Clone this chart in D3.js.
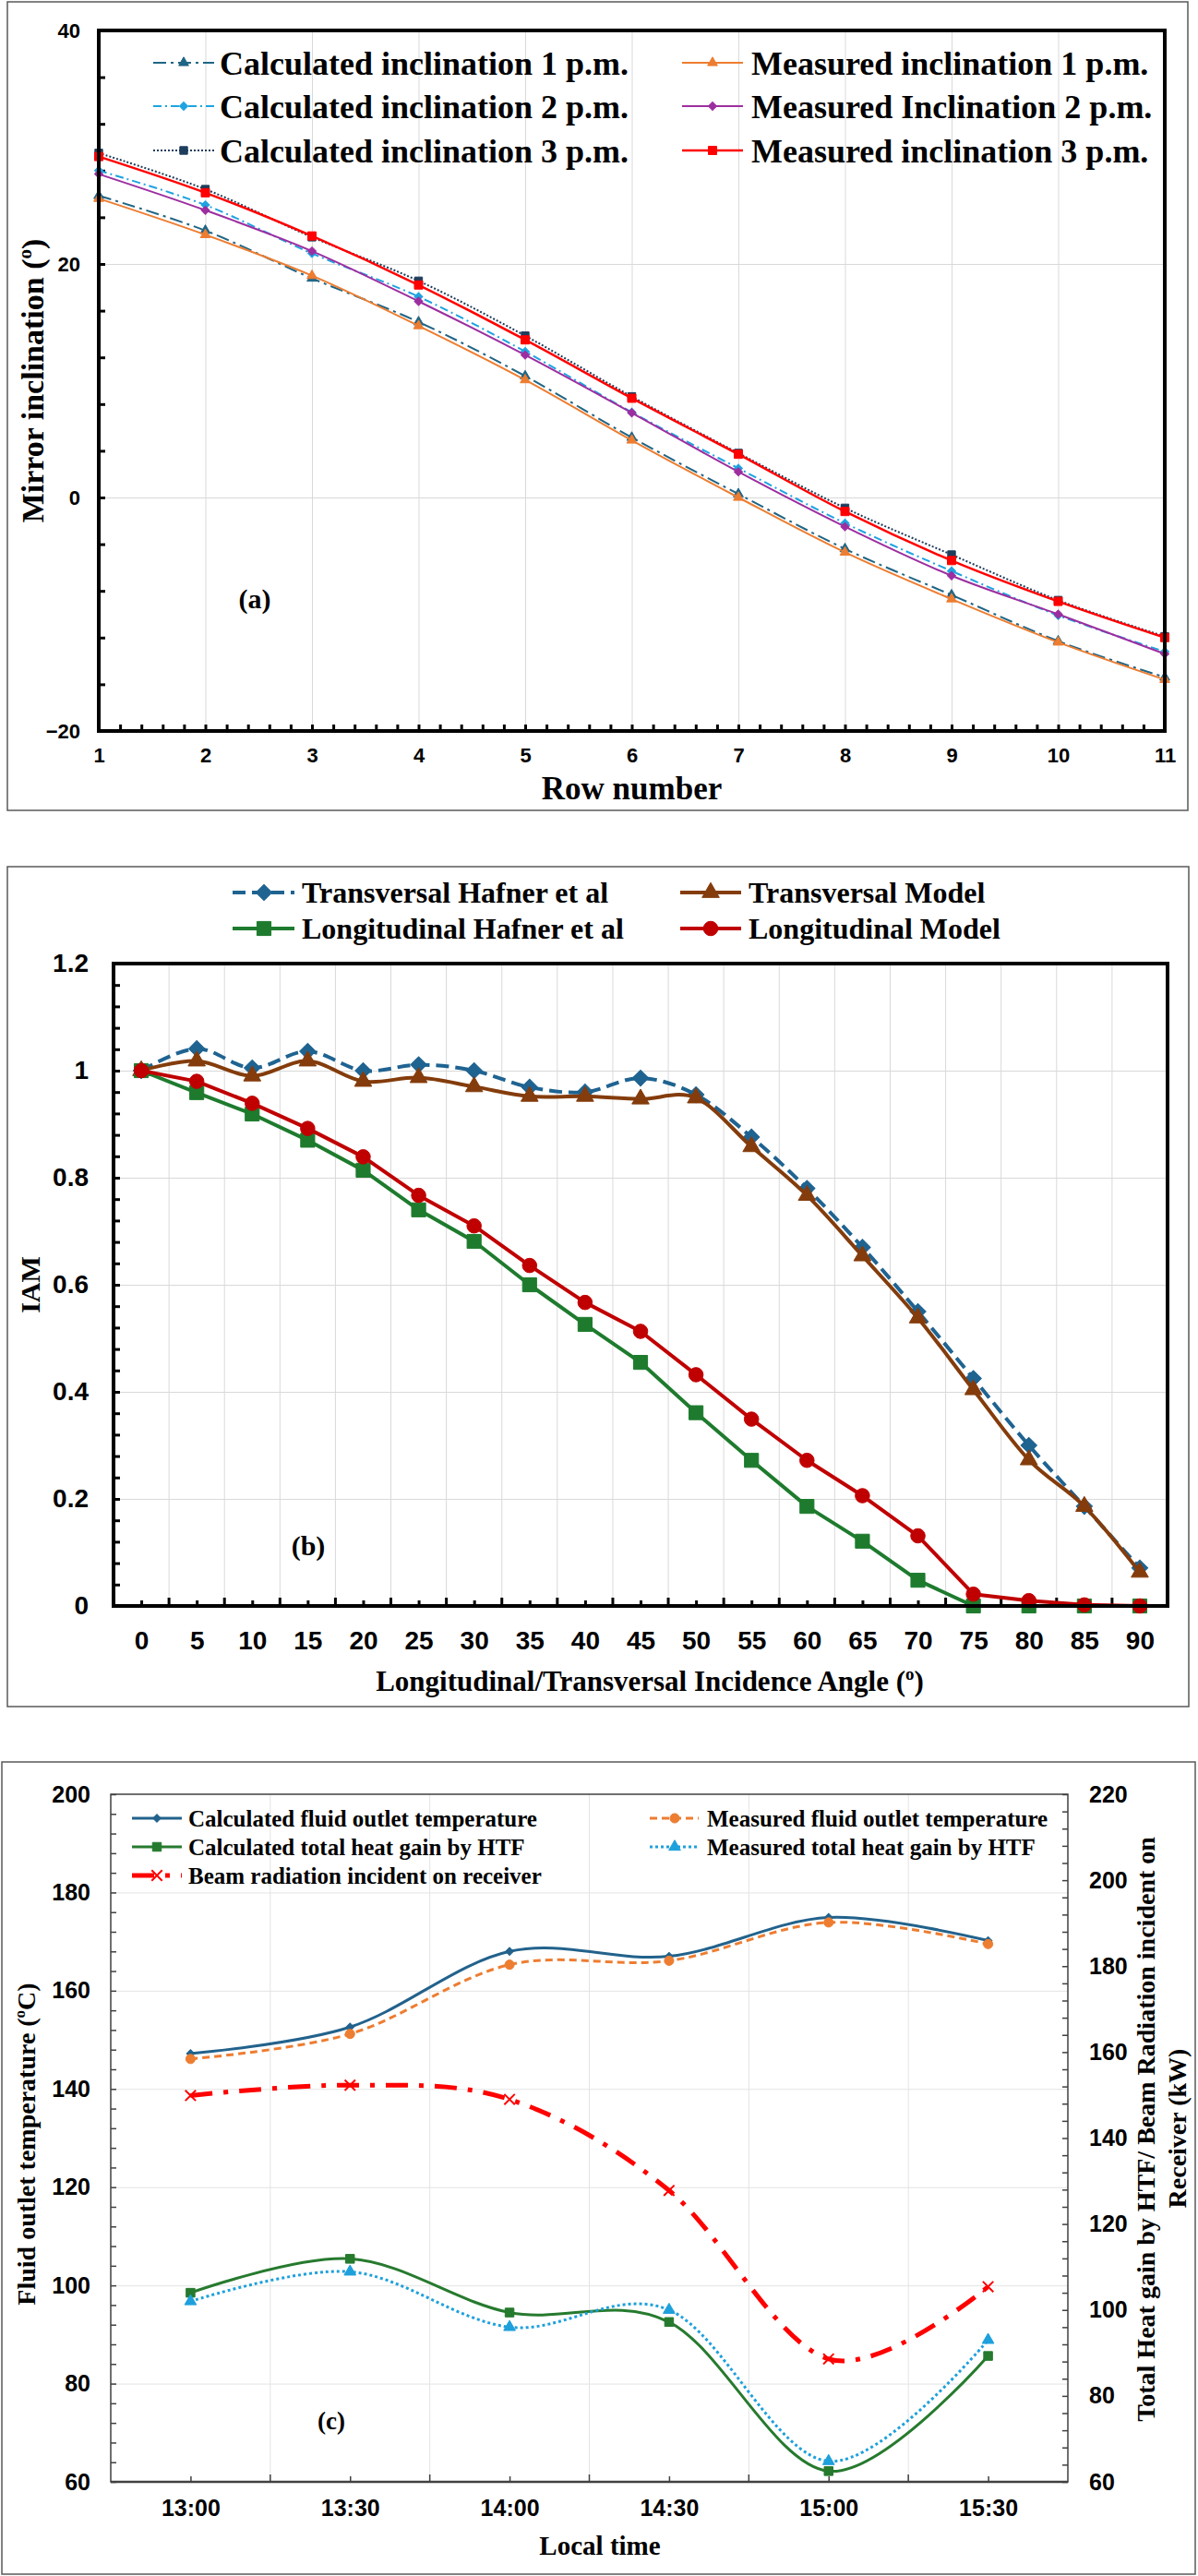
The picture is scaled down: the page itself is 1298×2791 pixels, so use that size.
<!DOCTYPE html>
<html>
<head>
<meta charset="utf-8">
<script src="https://cdn.jsdelivr.net/npm/d3@7"></script>
<style>
  body { margin: 0; background: #fff; }
  svg { display: block; font-family: "Liberation Serif", "Times New Roman", serif; font-weight: bold; }
</style>
</head>
<body>
<svg id="chart" width="1298" height="2791"></svg>
<script>
// ---- (a) mirror inclination per row ----
const ROW_NUMBERS = [1, 2, 3, 4, 5, 6, 7, 8, 9, 10, 11];
const CALC_1PM = [25.85, 22.86, 18.77, 15.03, 10.4, 5.14, 0.3, -4.4, -8.35, -12.3, -15.4];
const MEAS_1PM = [25.6, 22.5, 19.0, 14.7, 10.07, 4.9, 0.0, -4.7, -8.7, -12.4, -15.6];
const CALC_2PM = [28.0, 25.05, 20.9, 17.2, 12.5, 7.3, 2.5, -2.2, -6.3, -10.1, -13.2];
const MEAS_2PM = [27.7, 24.6, 21.1, 16.8, 12.2, 7.25, 2.2, -2.5, -6.7, -10.0, -13.4];
const CALC_3PM = [29.5, 26.4, 22.3, 18.55, 13.85, 8.65, 3.8, -0.9, -4.9, -8.8, -11.9];
const MEAS_3PM = [29.2, 26.1, 22.4, 18.2, 13.5, 8.5, 3.7, -1.2, -5.4, -8.9, -12.0];
const INCL_TICKS = [-20, 0, 20, 40];

// ---- (b) incidence angle modifier ----
const ANGLES = [0, 5, 10, 15, 20, 25, 30, 35, 40, 45, 50, 55, 60, 65, 70, 75, 80, 85, 90];
const TRANS_HAFNER = [1.0, 1.041, 1.005, 1.036, 1.0, 1.011, 1.0, 0.969, 0.96, 0.986, 0.955, 0.876, 0.78, 0.67, 0.55, 0.425, 0.3, 0.186, 0.071];
const TRANS_MODEL  = [1.0, 1.018, 0.99, 1.018, 0.98, 0.987, 0.97, 0.952, 0.952, 0.947, 0.949, 0.858, 0.767, 0.654, 0.538, 0.404, 0.273, 0.186, 0.063];
const LONG_HAFNER  = [1.0, 0.959, 0.919, 0.87, 0.814, 0.74, 0.681, 0.6, 0.526, 0.455, 0.361, 0.272, 0.186, 0.121, 0.048, 0, 0, 0, 0];
const LONG_MODEL   = [1.0, 0.98, 0.939, 0.892, 0.839, 0.767, 0.71, 0.636, 0.567, 0.513, 0.432, 0.349, 0.272, 0.206, 0.131, 0.022, 0.01, 0.002, 0];
const IAM_TICKS = [0, 0.2, 0.4, 0.6, 0.8, 1, 1.2];

// ---- (c) outlet temperature and heat gain over the afternoon ----
const TIMES = ['13:00', '13:30', '14:00', '14:30', '15:00', '15:30'];
const CALC_OUTLET_T = [147.2, 152.6, 168.0, 167.0, 174.9, 170.2];
const MEAS_OUTLET_T = [146.1, 151.2, 165.3, 166.1, 173.9, 169.5];
const CALC_HEAT_GAIN = [104.0, 111.9, 99.4, 97.2, 62.5, 89.3];
const MEAS_HEAT_GAIN = [102.0, 108.9, 96.0, 100.0, 64.8, 93.0];
const BEAM_RADIATION = [149.9, 152.3, 149.0, 127.8, 88.6, 105.4];
const TEMP_TICKS = [60, 80, 100, 120, 140, 160, 180, 200];
const POWER_TICKS = [60, 80, 100, 120, 140, 160, 180, 200, 220];

const svg = d3.select('#chart');
const GRID = '#d9d9d9';

const symbolX = {
  draw(ctx, size) {
    const r = Math.sqrt(size) / 2;
    ctx.moveTo(-r, -r); ctx.lineTo(r, r);
    ctx.moveTo(-r, r); ctx.lineTo(r, -r);
  }
};
const SYMBOLS = { triangle: d3.symbolTriangle, square: d3.symbolSquare, diamond: d3.symbolSquare, circle: d3.symbolCircle, x: symbolX };

function outerBox(x0, y0, x1, y1) {
  svg.append('rect').attr('x', x0).attr('y', y0).attr('width', x1 - x0).attr('height', y1 - y0)
    .attr('fill', 'none').attr('stroke', '#595959').attr('stroke-width', 1.5);
}

function styleAxis(g, color, width) {
  g.select('.domain').remove();
  g.selectAll('line').attr('stroke', color).attr('stroke-width', width);
}

function labelAxis(g, size) {
  g.select('.domain').remove();
  g.selectAll('line').remove();
  g.selectAll('text').attr('font-family', null).attr('font-size', size).attr('fill', '#000');
}

function markerAt(g, s, cx, cy) {
  g.append('path')
    .attr('d', d3.symbol(SYMBOLS[s.marker], s.msize)())
    .attr('transform', `translate(${cx},${cy})` + (s.marker === 'diamond' ? ' rotate(45)' : ''))
    .attr('fill', s.marker === 'x' ? 'none' : s.color)
    .attr('stroke', s.color)
    .attr('stroke-width', s.marker === 'x' ? 2 : 1);
}

function drawSeries(g, xs, s, x, y) {
  const line = d3.line()
    .x((d, i) => x(xs[i]))
    .y(d => y(d))
    .curve(s.smooth ? d3.curveCardinal.tension(0) : d3.curveLinear);
  g.append('path').datum(s.values).attr('d', line)
    .attr('fill', 'none').attr('stroke', s.color).attr('stroke-width', s.width)
    .attr('stroke-dasharray', s.dash || null).attr('stroke-linejoin', 'round');
  const mg = g.append('g');
  s.values.forEach((v, i) => markerAt(mg, s, x(xs[i]), y(v)));
}

function legendItem(g, s, x0, x1, mx, tx, y, size) {
  g.append('line').attr('x1', x0).attr('x2', x1).attr('y1', y).attr('y2', y)
    .attr('stroke', s.color).attr('stroke-width', s.width).attr('stroke-dasharray', s.dash || null);
  markerAt(g, s, mx, y);
  g.append('text').attr('x', tx).attr('y', y).attr('dy', '0.35em').attr('font-size', size).text(s.label);
}

function rotatedTitle(x, y, size, parts) {
  const t = svg.append('text').attr('transform', `translate(${x},${y}) rotate(-90)`)
    .attr('text-anchor', 'middle').attr('font-size', size);
  parts(t);
}

// ================= (a) =================
{
  const P = { left: 107, right: 1262, top: 33, bottom: 792 };
  outerBox(8, 2, 1287, 878);
  const x = d3.scaleLinear().domain([1, 11]).range([P.left, P.right]);
  const y = d3.scaleLinear().domain([-20, 40]).range([P.bottom, P.top]);
  const g = svg.append('g');

  g.append('g').attr('transform', `translate(0,${P.bottom})`)
    .call(d3.axisBottom(x).tickValues(ROW_NUMBERS.slice(1, -1)).tickSize(-(P.bottom - P.top)).tickFormat(''))
    .call(a => styleAxis(a, GRID, 1));
  g.append('g').attr('transform', `translate(${P.left},0)`)
    .call(d3.axisLeft(y).tickValues([0, 20]).tickSize(-(P.right - P.left)).tickFormat(''))
    .call(a => styleAxis(a, GRID, 1));

  // inside tick marks
  g.append('g').attr('transform', `translate(0,${P.bottom})`)
    .call(d3.axisBottom(x).tickValues(d3.range(0, 51).map(i => 1 + i * 0.2)).tickSize(-7).tickFormat(''))
    .call(a => styleAxis(a, '#000', 3));
  g.append('g').attr('transform', `translate(${P.left},0)`)
    .call(d3.axisLeft(y).tickValues(d3.range(-20, 41, 4)).tickSize(-7).tickFormat(''))
    .call(a => styleAxis(a, '#000', 3));

  g.append('g').attr('transform', `translate(${P.left},0)`)
    .call(d3.axisLeft(y).tickValues(INCL_TICKS).tickSize(0).tickPadding(20))
    .call(a => labelAxis(a, 22));
  g.append('g').attr('transform', `translate(0,${P.bottom})`)
    .call(d3.axisBottom(x).tickValues(ROW_NUMBERS).tickSize(0).tickPadding(18))
    .call(a => labelAxis(a, 22));

  const series = [
    { label: 'Calculated inclination 1 p.m.', values: CALC_1PM, color: '#1f6585', width: 2, dash: '14,5,3,5', marker: 'triangle', msize: 50, smooth: true },
    { label: 'Measured inclination 1 p.m.', values: MEAS_1PM, color: '#ed7d31', width: 2, marker: 'triangle', msize: 50, smooth: true },
    { label: 'Calculated inclination 2 p.m.', values: CALC_2PM, color: '#1ea3e0', width: 2, dash: '9,4,2,4', marker: 'diamond', msize: 40, smooth: true },
    { label: 'Measured Inclination 2 p.m.', values: MEAS_2PM, color: '#9c2ea0', width: 2, marker: 'diamond', msize: 40, smooth: true },
    { label: 'Calculated inclination 3 p.m.', values: CALC_3PM, color: '#1f3d5c', width: 2, dash: '2,2', marker: 'square', msize: 70, smooth: true },
    { label: 'Measured inclination 3 p.m.', values: MEAS_3PM, color: '#ff0000', width: 2.5, marker: 'square', msize: 80, smooth: true },
  ];
  const sg = g.append('g');
  series.forEach(s => drawSeries(sg, ROW_NUMBERS, s, x, y));

  g.append('rect').attr('x', P.left).attr('y', P.top).attr('width', P.right - P.left).attr('height', P.bottom - P.top)
    .attr('fill', 'none').attr('stroke', '#000').attr('stroke-width', 4);

  const lg = g.append('g');
  const rowsY = [68, 115, 163];
  series.forEach((s, i) => {
    const col = i % 2, row = Math.floor(i / 2);
    if (col === 0) legendItem(lg, s, 166, 232, 199, 238, rowsY[row], 36);
    else legendItem(lg, s, 739, 805, 772, 814, rowsY[row], 36);
  });

  g.append('text').attr('x', 276).attr('y', 659).attr('text-anchor', 'middle').attr('font-size', 30).text('(a)');
  g.append('text').attr('x', (P.left + P.right) / 2).attr('y', 866).attr('text-anchor', 'middle').attr('font-size', 35).text('Row number');
  rotatedTitle(47, (P.top + P.bottom) / 2, 34, t => {
    t.append('tspan').text('Mirror inclination (');
    t.append('tspan').attr('font-size', 21).attr('dy', -13).text('o');
    t.append('tspan').attr('dy', 13).text(')');
  });
}

// ================= (b) =================
{
  const P = { left: 123, right: 1265, top: 1044, bottom: 1740 };
  outerBox(8, 939, 1288, 1849);
  const x = d3.scalePoint().domain(ANGLES).range([P.left, P.right]).padding(0.5);
  const y = d3.scaleLinear().domain([0, 1.2]).range([P.bottom, P.top]);
  const step = x.step();
  const bounds = d3.range(1, ANGLES.length).map(i => P.left + i * step);
  const g = svg.append('g');

  g.selectAll('.vgrid').data(bounds).join('line')
    .attr('x1', d => d).attr('x2', d => d).attr('y1', P.top).attr('y2', P.bottom)
    .attr('stroke', GRID).attr('stroke-width', 1);
  g.append('g').attr('transform', `translate(${P.left},0)`)
    .call(d3.axisLeft(y).tickValues(IAM_TICKS.slice(1, -1)).tickSize(-(P.right - P.left)).tickFormat(''))
    .call(a => styleAxis(a, GRID, 1));

  // inside ticks: boundaries (long) and category centres (short)
  g.selectAll('.btick').data(bounds).join('line')
    .attr('x1', d => d).attr('x2', d => d).attr('y1', P.bottom).attr('y2', P.bottom - 9)
    .attr('stroke', '#000').attr('stroke-width', 3);
  g.append('g').attr('transform', `translate(0,${P.bottom})`)
    .call(d3.axisBottom(x).tickSize(-6).tickFormat(''))
    .call(a => styleAxis(a, '#000', 3));
  g.append('g').attr('transform', `translate(${P.left},0)`)
    .call(d3.axisLeft(y).tickValues(d3.range(0, 31).map(i => i * 0.04)).tickSize(-7).tickFormat(''))
    .call(a => styleAxis(a, '#000', 3));

  g.append('g').attr('transform', `translate(${P.left},0)`)
    .call(d3.axisLeft(y).tickValues(IAM_TICKS).tickSize(0).tickPadding(27).tickFormat(d3.format('~g')))
    .call(a => labelAxis(a, 28));
  g.append('g').attr('transform', `translate(0,${P.bottom})`)
    .call(d3.axisBottom(x).tickSize(0).tickPadding(27))
    .call(a => labelAxis(a, 28));

  const series = [
    { label: 'Transversal Hafner et al', values: TRANS_HAFNER, color: '#1f6391', width: 4, dash: '14,7', marker: 'diamond', msize: 150, smooth: true },
    { label: 'Transversal Model', values: TRANS_MODEL, color: '#843c0c', width: 4, marker: 'triangle', msize: 150, smooth: true },
    { label: 'Longitudinal Hafner et al', values: LONG_HAFNER, color: '#1e7b2e', width: 4, marker: 'square', msize: 230, smooth: false },
    { label: 'Longitudinal Model', values: LONG_MODEL, color: '#c00000', width: 4, marker: 'circle', msize: 190, smooth: false },
  ];
  const sg = g.append('g');
  series.forEach(s => drawSeries(sg, ANGLES, s, x, y));

  g.append('rect').attr('x', P.left).attr('y', P.top).attr('width', P.right - P.left).attr('height', P.bottom - P.top)
    .attr('fill', 'none').attr('stroke', '#000').attr('stroke-width', 4);

  const lg = g.append('g');
  const rowsY = [967, 1006];
  series.forEach((s, i) => {
    const col = i % 2, row = Math.floor(i / 2);
    if (col === 0) legendItem(lg, s, 252, 319, 286, 327, rowsY[row], 32);
    else legendItem(lg, s, 737, 803, 770, 811, rowsY[row], 32);
  });

  g.append('rect').attr('x', 310).attr('y', 1652).attr('width', 50).attr('height', 42).attr('fill', '#fff');
  g.append('text').attr('x', 334).attr('y', 1685).attr('text-anchor', 'middle').attr('font-size', 30).text('(b)');
  const xt = g.append('text').attr('x', (P.left + P.right) / 2 + 10).attr('y', 1832).attr('text-anchor', 'middle').attr('font-size', 31);
  xt.append('tspan').text('Longitudinal/Transversal Incidence Angle (');
  xt.append('tspan').attr('font-size', 19).attr('dy', -12).text('o');
  xt.append('tspan').attr('dy', 12).text(')');
  rotatedTitle(43, (P.top + P.bottom) / 2, 30, t => t.text('IAM'));
}

// ================= (c) =================
{
  const P = { left: 120, right: 1157, top: 1944, bottom: 2689 };
  outerBox(2, 1909, 1295, 2789);
  const x = d3.scalePoint().domain(TIMES).range([P.left, P.right]).padding(0.5);
  const yT = d3.scaleLinear().domain([60, 200]).range([P.bottom, P.top]);
  const yQ = d3.scaleLinear().domain([60, 220]).range([P.bottom, P.top]);
  const step = x.step();
  const bounds = d3.range(1, TIMES.length).map(i => P.left + i * step);
  const g = svg.append('g');

  g.selectAll('.vgrid').data(bounds).join('line')
    .attr('x1', d => d).attr('x2', d => d).attr('y1', P.top).attr('y2', P.bottom)
    .attr('stroke', '#e3e3e3').attr('stroke-width', 1);
  g.append('g').attr('transform', `translate(${P.left},0)`)
    .call(d3.axisLeft(yT).tickValues(TEMP_TICKS.slice(1, -1)).tickSize(-(P.right - P.left)).tickFormat(''))
    .call(a => styleAxis(a, '#e3e3e3', 1));

  g.selectAll('.btick').data(bounds).join('line')
    .attr('x1', d => d).attr('x2', d => d).attr('y1', P.bottom).attr('y2', P.bottom - 8)
    .attr('stroke', '#404040').attr('stroke-width', 1.5);
  g.append('g').attr('transform', `translate(0,${P.bottom})`)
    .call(d3.axisBottom(x).tickSize(-6).tickFormat(''))
    .call(a => styleAxis(a, '#404040', 1.5));
  g.append('g').attr('transform', `translate(${P.left},0)`)
    .call(d3.axisLeft(yT).tickValues(d3.range(60, 201, 4)).tickSize(-6).tickFormat(''))
    .call(a => styleAxis(a, '#404040', 1.5));
  g.append('g').attr('transform', `translate(${P.right},0)`)
    .call(d3.axisRight(yQ).tickValues(d3.range(60, 221, 4)).tickSize(-6).tickFormat(''))
    .call(a => styleAxis(a, '#404040', 1.5));

  g.append('g').attr('transform', `translate(${P.left},0)`)
    .call(d3.axisLeft(yT).tickValues(TEMP_TICKS).tickSize(0).tickPadding(22))
    .call(a => labelAxis(a, 25));
  g.append('g').attr('transform', `translate(${P.right},0)`)
    .call(d3.axisRight(yQ).tickValues(POWER_TICKS).tickSize(0).tickPadding(23))
    .call(a => labelAxis(a, 25));
  g.append('g').attr('transform', `translate(0,${P.bottom})`)
    .call(d3.axisBottom(x).tickSize(0).tickPadding(19))
    .call(a => labelAxis(a, 25));

  const series = [
    { label: 'Calculated fluid outlet temperature', values: CALC_OUTLET_T, y: yT, color: '#22628c', width: 3, marker: 'diamond', msize: 36, smooth: true },
    { label: 'Measured fluid outlet temperature', values: MEAS_OUTLET_T, y: yT, color: '#ed7d31', width: 3, dash: '8,5', marker: 'circle', msize: 80, smooth: true },
    { label: 'Calculated total heat gain by HTF', values: CALC_HEAT_GAIN, y: yQ, color: '#267a2e', width: 3, marker: 'square', msize: 90, smooth: true },
    { label: 'Measured total heat gain by HTF', values: MEAS_HEAT_GAIN, y: yQ, color: '#1ea0dc', width: 3, dash: '3,3', marker: 'triangle', msize: 70, smooth: true },
    { label: 'Beam radiation incident on receiver', values: BEAM_RADIATION, y: yQ, color: '#ff0000', width: 5, dash: '24,12,5,12', marker: 'x', msize: 130, smooth: true },
  ];
  const sg = g.append('g');
  series.forEach(s => drawSeries(sg, TIMES, s, x, s.y));

  g.append('rect').attr('x', P.left).attr('y', P.top).attr('width', P.right - P.left).attr('height', P.bottom - P.top)
    .attr('fill', 'none').attr('stroke', '#404040').attr('stroke-width', 1.5);
  g.append('line').attr('x1', P.left).attr('x2', P.right).attr('y1', P.bottom).attr('y2', P.bottom)
    .attr('stroke', '#404040').attr('stroke-width', 2.5);

  const lg = g.append('g');
  const rowsY = [1970, 2001, 2032];
  series.forEach((s, i) => {
    const col = i % 2, row = Math.floor(i / 2);
    if (col === 0) legendItem(lg, s, 143, 197, 170, 204, rowsY[row], 25);
    else legendItem(lg, s, 704, 757, 731, 766, rowsY[row], 25);
  });

  g.append('text').attr('x', 359).attr('y', 2632).attr('text-anchor', 'middle').attr('font-size', 27).text('(c)');
  g.append('text').attr('x', 650).attr('y', 2768).attr('text-anchor', 'middle').attr('font-size', 29).text('Local time');
  rotatedTitle(38, 2323, 28, t => {
    t.append('tspan').text('Fluid outlet temperature (');
    t.append('tspan').attr('font-size', 17).attr('dy', -11).text('o');
    t.append('tspan').attr('dy', 11).text('C)');
  });
  rotatedTitle(1251, 2307, 28, t => t.text('Total Heat gain by HTF/ Beam Radiation incident on'));
  rotatedTitle(1285, 2306, 28, t => t.text('Receiver (kW)'));
}
</script>
</body>
</html>
